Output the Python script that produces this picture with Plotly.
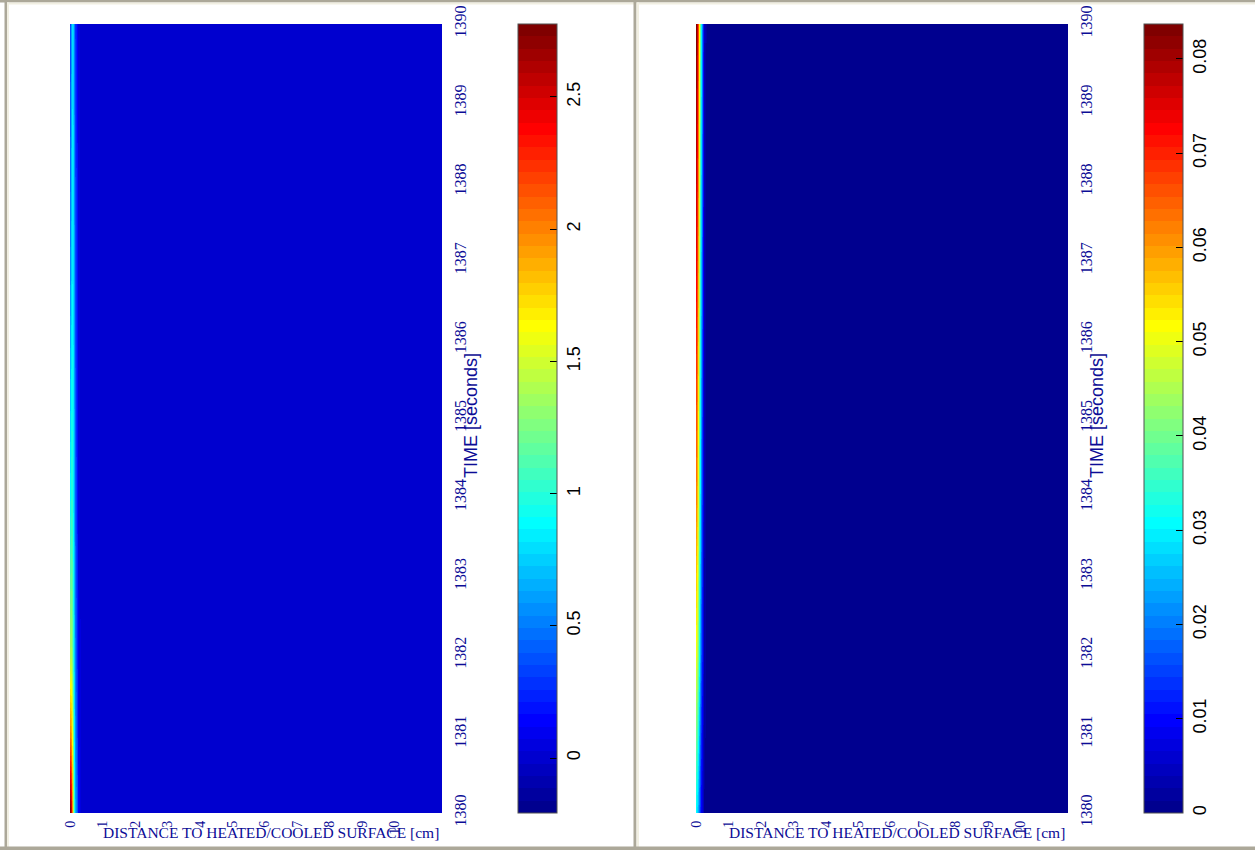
import math
import plotly.graph_objects as go

# ---- data -------------------------------------------------------------
distance_cm = [0.0, 0.03, 0.06, 0.09, 0.12, 0.15, 0.2, 0.25, 0.35, 11.5]
time_s = [1380, 1381, 1382, 1384, 1387, 1390]

# left field (one row per time step, one value per distance node)
left_field = [
    [2.78, 2.55, 2.00, 1.40, 1.00, 0.65, 0.40, 0.15, 0.0, 0.0],
    [2.00, 1.90, 1.60, 1.20, 0.85, 0.55, 0.30, 0.10, 0.0, 0.0],
    [1.40, 1.40, 1.25, 1.00, 0.75, 0.50, 0.25, 0.08, 0.0, 0.0],
    [0.90, 1.00, 1.00, 0.85, 0.65, 0.42, 0.20, 0.06, 0.0, 0.0],
    [0.55, 0.75, 0.85, 0.80, 0.60, 0.38, 0.18, 0.05, 0.0, 0.0],
    [0.35, 0.60, 0.80, 0.75, 0.50, 0.30, 0.15, 0.05, 0.0, 0.0],
]
left_crange = [-0.208, 2.776]
left_cticks = [0, 0.5, 1, 1.5, 2, 2.5]

# right field
right_field = [
    [0.030, 0.028, 0.024, 0.019, 0.014, 0.009, 0.004, 0.001, 0.0, 0.0],
    [0.040, 0.037, 0.032, 0.025, 0.019, 0.013, 0.005, 0.002, 0.0, 0.0],
    [0.050, 0.046, 0.040, 0.032, 0.024, 0.017, 0.007, 0.002, 0.0, 0.0],
    [0.062, 0.057, 0.049, 0.039, 0.030, 0.021, 0.008, 0.003, 0.0, 0.0],
    [0.074, 0.068, 0.058, 0.046, 0.035, 0.026, 0.010, 0.003, 0.0, 0.0],
    [0.0837, 0.077, 0.066, 0.052, 0.040, 0.030, 0.012, 0.004, 0.0, 0.0],
]
right_crange = [0.0, 0.0837]
right_cticks = [0, 0.01, 0.02, 0.03, 0.04, 0.05, 0.06, 0.07, 0.08]

distance_ticks = list(range(0, 11))
time_ticks = list(range(1380, 1391))


# ---- MATLAB-style jet(64) colormap, drawn as discrete bands -----------
def jet(n=64):
    m = math.ceil(n / 4)
    u = [i / m for i in range(1, m + 1)] + [1.0] * (m - 1) + [i / m for i in range(m, 0, -1)]
    off = math.ceil(n / 8) - (1 if n % 4 == 1 else 0)
    g = [off + i for i in range(1, len(u) + 1)]
    r = [v + m for v in g if v + m <= n]
    b = [v - m for v in g if v - m >= 1]
    g = [v for v in g if v <= n]
    J = [[0.0, 0.0, 0.0] for _ in range(n)]
    for k, idx in enumerate(r):
        J[idx - 1][0] = u[k]
    for k, idx in enumerate(g):
        J[idx - 1][1] = u[k]
    for k, idx in enumerate(b):
        J[idx - 1][2] = u[len(u) - len(b) + k]
    return J


def banded_scale(cmap):
    n = len(cmap)
    scale = []
    for i, (r, g, b) in enumerate(cmap):
        c = f"rgb({round(r*255)},{round(g*255)},{round(b*255)})"
        scale.append([i / n, c])
        scale.append([(i + 1) / n, c])
    return scale


JET = banded_scale(jet(64))

W, H = 1255, 850
NAVY = "rgb(12,12,150)"


def px(x):
    return x / W


def py(y):
    return 1 - y / H


fig = go.Figure()

panels = [
    dict(z=left_field, crange=left_crange, cticks=left_cticks, dx=0),
    dict(z=right_field, crange=right_crange, cticks=right_cticks, dx=626),
]

for k, p in enumerate(panels, start=1):
    xa = "x" if k == 1 else f"x{k}"
    ya = "y" if k == 1 else f"y{k}"
    fig.add_trace(go.Heatmap(
        x=distance_cm, y=time_s, z=p["z"],
        zmin=p["crange"][0], zmax=p["crange"][1],
        colorscale=JET, zsmooth="best",
        xaxis=xa, yaxis=ya,
        colorbar=dict(
            x=px(518 + p["dx"]), xanchor="left", xpad=0,
            y=py(813), yanchor="bottom", ypad=0,
            len=813 - 24, lenmode="pixels",
            thickness=39, thicknessmode="pixels",
            outlinecolor="#505050", outlinewidth=1,
            tickvals=p["cticks"], tickangle=-90,
            ticks="inside", ticklen=7, tickcolor="black", tickwidth=1,
            tickfont=dict(family="Arial, Liberation Sans, sans-serif", size=18, color="black"),
        ),
    ))

    xkey = "xaxis" if k == 1 else f"xaxis{k}"
    ykey = "yaxis" if k == 1 else f"yaxis{k}"
    fig.layout[xkey] = dict(
        domain=[px(70 + p["dx"]), px(442 + p["dx"])],
        anchor=ya, range=[0, 11.45], automargin=False,
        tickvals=distance_ticks, tickangle=-90,
        ticks="", ticklabelstandoff=4,
        showgrid=False, zeroline=False, showline=False,
        tickfont=dict(family="Times New Roman, Liberation Serif, serif", size=14, color=NAVY),
    )
    fig.layout[ykey] = dict(
        domain=[py(813), py(24)],
        anchor=xa, side="right", range=[1380, 1390], automargin=False,
        tickvals=time_ticks, tickangle=-90,
        ticks="", ticklabelstandoff=7,
        showgrid=False, zeroline=False, showline=False,
        tickfont=dict(family="Times New Roman, Liberation Serif, serif", size=16, color=NAVY),
    )

    fig.add_annotation(
        text="TIME [seconds]", textangle=-90,
        x=px(471 + p["dx"]), y=py(416), xref="paper", yref="paper",
        showarrow=False, xanchor="center", yanchor="middle",
        font=dict(family="Arial, Liberation Sans, sans-serif", size=18, color=NAVY),
    )
    fig.add_annotation(
        text="DISTANCE TO HEATED/COOLED SURFACE [cm]",
        x=px(271 + p["dx"]), y=py(832), xref="paper", yref="paper",
        showarrow=False, xanchor="center", yanchor="middle",
        font=dict(family="Times New Roman, Liberation Serif, serif", size=15.5, color=NAVY),
    )

# window-style frame around the two panels
GRAY = "#aca899"
CREAM = "#f1efe2"
frame = [
    (0, 0, W, 2.5, GRAY),
    (7, 2.5, W, 4.5, CREAM),
    (4.5, 0, 7, H, GRAY),
    (7, 2.5, 9, H, CREAM),
    (633.5, 0, 636.5, H, GRAY),
    (636.5, 2.5, 639, H, CREAM),
    (0, 846.5, W, H, GRAY),
]
for x0, y0, x1, y1, c in frame:
    fig.add_shape(type="rect", xref="paper", yref="paper",
                  x0=px(x0), x1=px(x1), y0=py(y1), y1=py(y0),
                  fillcolor=c, line_width=0, layer="above")

fig.update_layout(
    width=W, height=H,
    margin=dict(l=0, r=0, t=0, b=0, autoexpand=False),
    paper_bgcolor="white", plot_bgcolor="white",
    showlegend=False,
)

fig.write_html("out.html")
